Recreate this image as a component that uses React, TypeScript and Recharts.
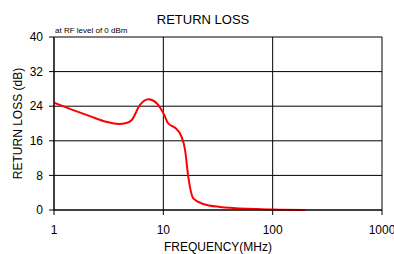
import { LineChart, Line, XAxis, YAxis, CartesianGrid } from "recharts";

// frequency (MHz) and return loss (dB)
const freqMHz = [1, 1.5, 2.13, 3, 3.9, 4.6, 5.14, 6.12, 7.3, 8.7, 10, 11.1, 12.8, 14.7, 15.8, 16.9, 18.8, 23.2, 33, 43, 100, 200];
const returnLoss = [24.8, 23.1, 21.7, 20.4, 19.9, 20.1, 20.8, 24.3, 25.6, 24.7, 22.4, 20.0, 19.0, 16.9, 13.9, 7.7, 2.7, 1.4, 0.7, 0.45, 0.1, 0.0];
const xTicks = [1, 10, 100, 1000];
const yTicks = [0, 8, 16, 24, 32, 40];

const data = freqMHz.map((f, i) => ({ f, rl: returnLoss[i] }));

const font = "'Liberation Sans', Arial, sans-serif";

export default function App() {
  return (
    <div style={{ position: "absolute", left: 0, top: 0, width: 394, height: 254, fontFamily: font, background: "#fff" }}>
      <div style={{ position: "absolute", left: 0, width: 406, top: 13, textAlign: "center", fontSize: 13, lineHeight: 1, color: "#000" }}>
        RETURN LOSS
      </div>
      <div style={{ position: "absolute", left: 55, top: 27, fontSize: 8, lineHeight: 1, color: "#000" }}>
        at RF level of 0 dBm
      </div>
      <LineChart width={394} height={254} data={data} margin={{ top: 37, right: 12, left: 0, bottom: 0 }}>
        <CartesianGrid stroke="#000" strokeWidth={1} />
        <XAxis
          dataKey="f"
          type="number"
          scale="log"
          domain={[1, 1000]}
          ticks={xTicks}
          allowDataOverflow
          height={44}
          tickSize={5}
          tickMargin={10}
          stroke="#000"
          tick={{ fontSize: 12, fill: "#000", fontFamily: font }}
          label={{ value: "FREQUENCY(MHz)", position: "insideBottom", offset: 3, fontSize: 12, fill: "#000", fontFamily: font }}
        />
        <YAxis
          type="number"
          domain={[0, 40]}
          ticks={yTicks}
          width={54}
          tickSize={5}
          tickMargin={6}
          stroke="#000"
          tick={{ fontSize: 12, fill: "#000", fontFamily: font }}
          label={{ value: "RETURN LOSS (dB)", angle: -90, position: "insideLeft", offset: 18, fontSize: 12, fill: "#000", fontFamily: font, style: { textAnchor: "middle" } }}
        />
        <Line dataKey="rl" type="monotone" stroke="#ff0000" strokeWidth={2} dot={false} isAnimationActive={false} />
      </LineChart>
    </div>
  );
}
